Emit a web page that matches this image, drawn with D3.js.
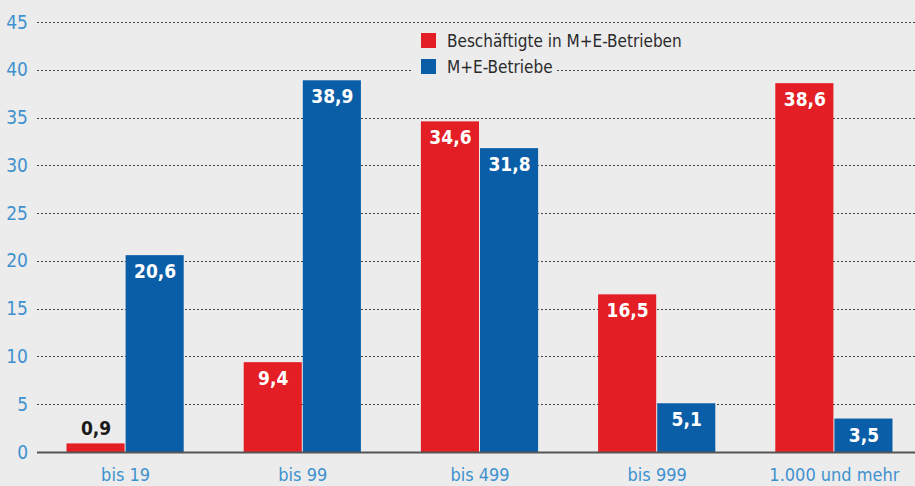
<!DOCTYPE html>
<html>
<head>
<meta charset="utf-8">
<script src="https://cdn.jsdelivr.net/npm/d3@7"></script>
<style>
  html, body { margin: 0; padding: 0; background: #ececec; }
  svg { display: block; font-family: "DejaVu Sans Condensed", "DejaVu Sans", sans-serif; }
</style>
</head>
<body>
<svg id="chart" width="915" height="486"></svg>
<script>
(function () {
    'use strict';

    const categories = ['bis 19', 'bis 99', 'bis 499', 'bis 999', '1.000 und mehr'];
    const series = ['Beschäftigte in M+E-Betrieben', 'M+E-Betriebe'];
    const beschaeftigte = [0.9, 9.4, 34.6, 16.5, 38.6];
    const betriebe = [20.6, 38.9, 31.8, 5.1, 3.5];
    const yTicks = [0, 5, 10, 15, 20, 25, 30, 35, 40, 45];
    const colors = ['#e31e24', '#0a5ea8'];

    const data = categories.map((c, i) => ({
        ca: c,
        va: [beschaeftigte[i], betriebe[i]]
    }));

    const sv = d3.select('#chart');
    const wi = 915, he = 486;
    const x0 = 37, y0 = 452, yTop = 22;

    sv.append('rect').attr('width', wi).attr('height', he).attr('fill', '#ececec');

    const x_sc = d3.scaleBand().domain(categories)
        .range([x0, 923])
        .paddingInner(0.333)
        .paddingOuter(0.1665);

    const x1_sc = d3.scaleBand().domain([0, 1]).range([0, x_sc.bandwidth()]).padding(0);

    const y_sc = d3.scaleLinear().domain([0, 45]).range([y0, yTop]);

    const co_sc = d3.scaleOrdinal().domain([0, 1]).range(colors);

    // grid
    const gr = sv.append('g').attr('class', 'grid');
    gr.selectAll('line')
        .data(yTicks.filter(d => d > 0))
        .enter()
        .append('line')
        .attr('x1', x0)
        .attr('x2', wi)
        .attr('y1', d => Math.round(y_sc(d)) + 0.5)
        .attr('y2', d => Math.round(y_sc(d)) + 0.5)
        .attr('stroke', '#444')
        .attr('stroke-width', 1)
        .attr('stroke-dasharray', '2,2');

    // y tick labels
    const y_ax = d3.axisLeft(y_sc).tickValues(yTicks).tickSize(0).tickPadding(0);
    const yg = sv.append('g')
        .attr('transform', `translate(28,0)`)
        .call(y_ax);
    yg.select('.domain').remove();
    yg.selectAll('text')
        .attr('fill', '#3f92cf')
        .style('font-size', '19px')
        .style('font-family', '"DejaVu Sans Condensed", sans-serif');

    // legend (drawn before bars, covers gridlines)
    const le = sv.append('g').attr('transform', 'translate(411,27)');
    le.append('rect').attr('x', 0).attr('y', 0).attr('width', 145).attr('height', 52).attr('fill', '#ececec');
    le.append('rect').attr('x', 145).attr('y', 0).attr('width', 283).attr('height', 27).attr('fill', '#ececec');
    const le_it = le.selectAll('.legend-item')
        .data(series)
        .enter()
        .append('g')
        .attr('transform', (d, i) => `translate(10, ${6 + i * 26})`);
    le_it.append('rect')
        .attr('width', 15)
        .attr('height', 15)
        .attr('fill', (d, i) => colors[i]);
    le_it.append('text')
        .attr('x', 26)
        .attr('y', 8)
        .attr('dy', '0.35em')
        .attr('fill', '#2a2a2a')
        .style('font-size', '17px')
        .text(d => d);

    // bars
    const fo_gr = sv.selectAll('.cat')
        .data(data)
        .enter()
        .append('g')
        .attr('class', 'cat')
        .attr('transform', d => `translate(${x_sc(d.ca)},0)`);

    const bars = fo_gr.selectAll('g.bar')
        .data(d => d.va.map((v, i) => ({ se: i, va: v })))
        .enter()
        .append('g')
        .attr('class', 'bar');

    bars.append('rect')
        .attr('x', d => x1_sc(d.se))
        .attr('width', x1_sc.bandwidth() - 1)
        .attr('y', d => y_sc(d.va))
        .attr('height', d => y0 - y_sc(d.va))
        .attr('fill', d => co_sc(d.se));

    const fmt = v => v.toFixed(1).replace('.', ',');

    bars.append('text')
        .attr('x', d => x1_sc(d.se) + x1_sc.bandwidth() / 2)
        .attr('y', d => d.va < 3 ? y_sc(d.va) - 8 : y_sc(d.va) + 23)
        .attr('text-anchor', 'middle')
        .attr('fill', d => d.va < 3 ? '#1a1a1a' : '#ffffff')
        .style('font-size', '19px')
        .style('font-weight', 'bold')
        .text(d => fmt(d.va));

    // baseline
    sv.append('line')
        .attr('x1', x0).attr('x2', wi)
        .attr('y1', y0 + 0.5).attr('y2', y0 + 0.5)
        .attr('stroke', '#555')
        .attr('stroke-width', 2);

    // x axis labels
    const x_ax = d3.axisBottom(x_sc).tickSize(0).tickPadding(0);
    const xg = sv.append('g')
        .attr('transform', `translate(0,${y0 + 16})`)
        .call(x_ax);
    xg.select('.domain').remove();
    xg.selectAll('text')
        .attr('fill', '#3f92cf')
        .style('font-size', '18px')
        .style('font-family', '"DejaVu Sans Condensed", sans-serif');
})();
</script>
</body>
</html>
